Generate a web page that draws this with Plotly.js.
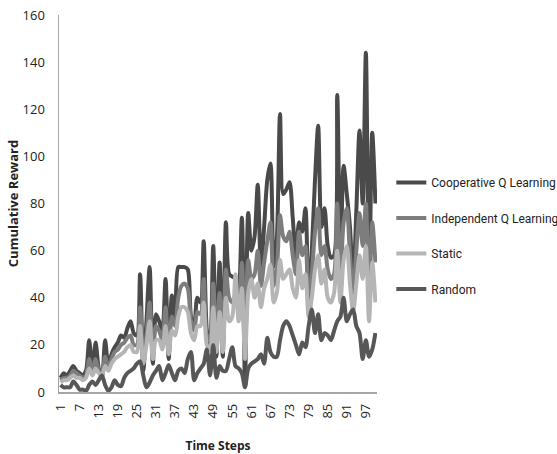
<!DOCTYPE html>
<html>
<head>
<meta charset="utf-8">
<script src="https://cdn.plot.ly/plotly-3.0.1.min.js"></script>
<style>html,body{margin:0;padding:0;background:#fff;overflow:hidden;}#chart{width:557px;height:454px;}</style>
</head>
<body>
<div id="chart"></div>
<script>
var seriesNames = ["Cooperative Q Learning", "Independent Q Learning", "Static", "Random"];
var tickValues = [1, 7, 13, 19, 25, 31, 37, 43, 49, 55, 61, 67, 73, 79, 85, 91, 97];
var tickLabels = ["1", "7", "13", "19", "25", "31", "37", "43", "49", "55", "61", "67", "73", "79", "85", "91", "97"];

var cooperative = [6, 8, 7, 9, 11, 9, 8, 7, 9, 22, 8, 21, 10, 6, 22, 11, 16, 19, 21, 24,
  23, 27, 30, 25, 24, 50, 9, 30, 53, 12, 33, 30, 26, 48, 14, 41, 31, 53, 53, 53,
  52, 32, 28, 40, 38, 64, 26, 19, 62, 15, 55, 15, 72, 50, 49, 48, 42, 74, 4, 76,
  60, 66, 88, 53, 70, 90, 97, 53, 65, 118, 84, 86, 89, 74, 57, 72, 68, 78, 40, 60,
  90, 113, 70, 78, 62, 57, 58, 126, 56, 96, 84, 70, 47, 77, 111, 80, 144, 42, 110, 80];
var independent = [5, 6, 6, 7, 9, 8, 7, 6, 7, 14, 8, 14, 9, 8, 15, 10, 14, 17, 18, 20,
  21, 23, 24, 20, 20, 36, 14, 24, 38, 16, 28, 26, 22, 36, 18, 32, 28, 40, 45, 46,
  44, 30, 26, 34, 33, 48, 24, 22, 46, 20, 42, 20, 52, 40, 38, 38, 36, 55, 18, 56,
  48, 50, 60, 45, 55, 64, 72, 45, 52, 75, 66, 64, 68, 58, 50, 68, 58, 62, 38, 50,
  68, 78, 58, 62, 52, 48, 50, 80, 48, 72, 78, 58, 42, 60, 76, 62, 80, 38, 72, 55];
var staticPolicy = [4, 5, 5, 6, 7, 6, 6, 5, 6, 10, 7, 10, 8, 7, 11, 9, 12, 14, 15, 16,
  17, 19, 20, 17, 17, 28, 12, 20, 30, 14, 22, 22, 18, 28, 16, 26, 24, 32, 36, 36,
  34, 25, 22, 28, 28, 38, 20, 18, 36, 17, 34, 17, 40, 30, 32, 50, 30, 44, 14, 42,
  48, 40, 46, 36, 44, 48, 54, 38, 42, 56, 48, 50, 52, 44, 40, 56, 44, 50, 32, 40,
  52, 58, 46, 52, 40, 38, 42, 60, 38, 56, 62, 46, 34, 46, 58, 48, 62, 30, 55, 38];
var randomPolicy = [3, 2, 2, 2, 4.5, 3, 1, 1, 0.5, 3, 4.5, 3, 5, 7, 3, 0.5, 2, 5, 3, 2.5,
  6, 8, 9, 10, 12, 13, 7, 2, 4, 7, 9, 11, 5, 8, 11.5, 8, 5, 9, 10, 8,
  14, 17, 5, 8, 10, 12, 18, 7, 20, 6, 11, 9, 9, 14, 19, 11, 10, 8, 2, 10,
  12, 13, 14, 16, 12, 23, 17, 15, 15, 22, 28, 30, 28, 24, 20, 16, 21, 19, 28, 35,
  25, 33, 22, 25, 24, 22, 26, 30, 32, 40, 30, 33, 35, 28, 25, 14, 22, 15, 18, 25];

var steps = cooperative.map(function (_, i) { return i + 1; });
var allSeries = [cooperative, independent, staticPolicy, randomPolicy];
var colors = ["#4a4a4a", "#7d7d7d", "#b5b5b5", "#575757"];

var traces = allSeries.map(function (ys, k) {
  return {
    x: steps, y: ys, type: "scatter", mode: "lines", name: seriesNames[k],
    legendgroup: "g" + k,
    line: {color: colors[k], width: 4, shape: "spline", smoothing: 0.8}
  };
});

var layout = {
  width: 557, height: 454,
  margin: {l: 59, r: 180, t: 15, b: 62, autoexpand: false},
  paper_bgcolor: "#fff", plot_bgcolor: "#fff",
  font: {family: "Open Sans, Liberation Sans, sans-serif", size: 12, color: "#222"},
  showlegend: true,
  legend: {x: 1.045, y: 0.594, xanchor: "left", yanchor: "top", traceorder: "grouped",
    tracegroupgap: 16.5, font: {family: "Roboto, sans-serif", size: 12, color: "#222"}, itemwidth: 30,
    bgcolor: "rgba(0,0,0,0)"},
  xaxis: {
    range: [0.5, 100.5], tickmode: "array", tickvals: tickValues, ticktext: tickLabels,
    tickangle: -90, showgrid: false, zeroline: false, showline: true, linecolor: "#a6a6a6", linewidth: 1.5,
    ticks: "", ticklabelstandoff: 5, tickfont: {size: 13, color: "#222"},
    title: {text: "<b>Time Steps</b>", font: {size: 12, color: "#222"}, standoff: 24}
  },
  yaxis: {
    range: [0, 160], dtick: 20, showgrid: false, zeroline: false, showline: true,
    linecolor: "#a6a6a6", linewidth: 1.5, ticks: "", ticklabelstandoff: 10,
    tickfont: {size: 13, color: "#222"},
    title: {text: "<b>Cumulative Reward</b>", font: {size: 13, color: "#222"}, standoff: 1}
  }
};

Plotly.newPlot("chart", traces, layout, {displayModeBar: false, staticPlot: true});
</script>
</body>
</html>
